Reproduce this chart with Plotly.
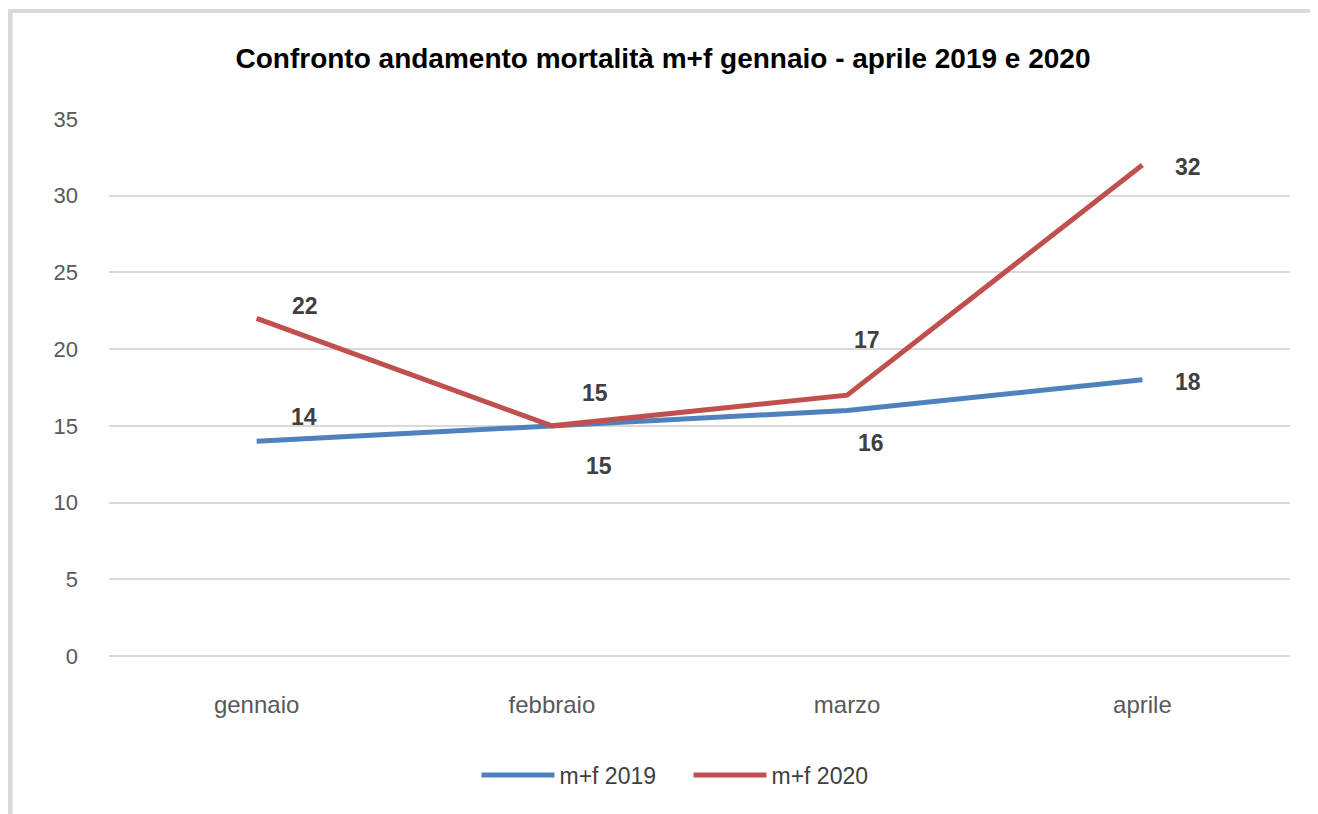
import plotly.graph_objects as go

categories = ["gennaio", "febbraio", "marzo", "aprile"]
series_2019 = [14, 15, 16, 18]
series_2020 = [22, 15, 17, 32]
name_2019 = "m+f 2019"
name_2020 = "m+f 2020"
title_text = "Confronto andamento mortalità m+f gennaio - aprile 2019 e 2020"
y_ticks = [0, 5, 10, 15, 20, 25, 30, 35]

# page body has an 8px margin; compensate so the picture lands at the window origin
OFF = 8
W, H = 1318 - OFF, 814 - OFF
ML, MR, MT, MB = 109 - OFF, 28, 119 - OFF, 166 - OFF
PW, PH = W - ML - MR, H - MT - MB

BLUE = "#4F81BD"
RED = "#C0504D"
FONT = "Liberation Sans, Arial, sans-serif"

fig = go.Figure()
fig.add_trace(go.Scatter(x=categories, y=series_2019, name=name_2019, mode="lines",
                         line=dict(color=BLUE, width=5)))
fig.add_trace(go.Scatter(x=categories, y=series_2020, name=name_2020, mode="lines",
                         line=dict(color=RED, width=5)))

# label offsets (pixels) per point
shifts_2019 = [(47, 24), (47, -40), (24, -32), (46, -2)]
shifts_2020 = [(48, 12), (43, 33), (20, 55), (46, -2)]
for vals, shifts in ((series_2019, shifts_2019), (series_2020, shifts_2020)):
    for c, v, (dx, dy) in zip(categories, vals, shifts):
        fig.add_annotation(x=c, y=v, text=f"<b>{v}</b>", showarrow=False,
                           xshift=dx, yshift=dy,
                           font=dict(family=FONT, size=23, color="#404040"))


def px_x(p):
    # window pixel -> paper x
    return (p - OFF - ML) / PW


def px_y(p):
    # window pixel -> paper y
    return (H - MB - (p - OFF)) / PH


# chart frame (left and top gray edges)
fig.add_shape(type="line", xref="paper", yref="paper",
              x0=px_x(10.3), x1=px_x(10.3), y0=px_y(9), y1=px_y(820),
              line=dict(color="#d9d9d9", width=4.5))
fig.add_shape(type="line", xref="paper", yref="paper",
              x0=px_x(8), x1=px_x(1325), y0=px_y(11), y1=px_y(11),
              line=dict(color="#d9d9d9", width=4))

fig.update_layout(
    width=W, height=H,
    margin=dict(l=ML, r=MR, t=MT, b=MB),
    paper_bgcolor="white", plot_bgcolor="white",
    title=dict(text=f"<b>{title_text}</b>", x=0.5, xanchor="center",
               y=1 - (58 - OFF) / H, yanchor="middle",
               font=dict(family=FONT, size=28, color="#000000")),
    font=dict(family=FONT, color="#595959"),
    showlegend=True,
    legend=dict(orientation="h", x=0.5 - 11 / PW, xanchor="center", y=px_y(775), yanchor="middle",
                font=dict(family=FONT, size=23, color="#404040"),
                itemwidth=73, entrywidth=124, tracegroupgap=0),
    xaxis=dict(range=[-0.5, 3.5], showgrid=False, zeroline=False, showline=False,
               ticks="", tickfont=dict(family=FONT, size=24, color="#595959"),
               ticklabelstandoff=32),
    yaxis=dict(range=[0, 35], tickvals=y_ticks, showgrid=True, gridcolor="#d9d9d9",
               gridwidth=1.5, zeroline=True, zerolinecolor="#d9d9d9", zerolinewidth=1.5,
               showline=False, ticks="",
               tickfont=dict(family=FONT, size=22, color="#595959"),
               ticklabelstandoff=30),
)

fig.write_html("out.html")
